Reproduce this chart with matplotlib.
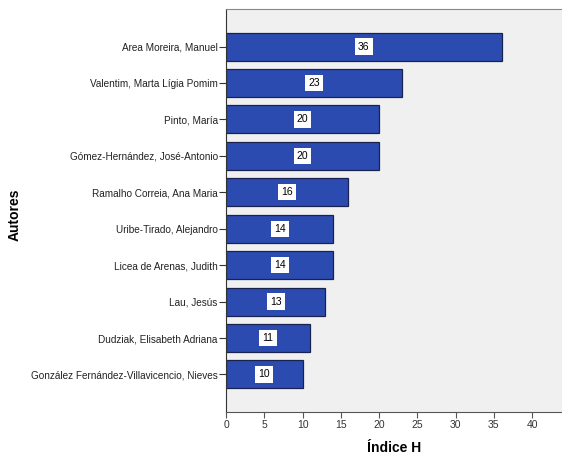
import matplotlib
matplotlib.use("Agg")
from matplotlib import pyplot as plt

# H-index per author (top to bottom as in the chart)
autores = [
    "Area Moreira, Manuel",
    "Valentim, Marta Lígia Pomim",
    "Pinto, María",
    "Gómez-Hernández, José-Antonio",
    "Ramalho Correia, Ana Maria",
    "Uribe-Tirado, Alejandro",
    "Licea de Arenas, Judith",
    "Lau, Jesús",
    "Dudziak, Elisabeth Adriana",
    "González Fernández-Villavicencio, Nieves",
]
indice_h = [36, 23, 20, 20, 16, 14, 14, 13, 11, 10]
ticks_x = [0, 5, 10, 15, 20, 25, 30, 35, 40]

plt.rcParams['font.family'] = ['Liberation Sans', 'DejaVu Sans']

fig = plt.figure(figsize=(5.62, 4.57), dpi=100)
ax = fig.add_axes([226 / 562, 45 / 457, 1 - 226 / 562, 403 / 457])
ax.set_facecolor('#f0f0f0')

pos = list(range(len(autores)))
ax.barh(pos, indice_h, height=0.77, color='#2c4bb0', edgecolor='#1a2350', linewidth=0.9)

# value labels in white boxes at bar centre
for p, v in zip(pos, indice_h):
    ax.text(v / 2, p, str(v), ha='center', va='center', fontsize=7.5, color='black',
            bbox=dict(boxstyle='square,pad=0.3', fc='white', ec='none'))

ax.set_ylim(len(autores) - 1 + 1.03, -1.03)
ax.set_xlim(0, 43.9)
ax.set_yticks(pos)
ax.set_yticklabels(autores, fontsize=7.2, color='#222222')
ax.set_xticks(ticks_x)
ax.set_xticklabels([str(t) for t in ticks_x], fontsize=7.5, color='#333333')
ax.tick_params(axis='y', length=5, width=0.8, color='#333333', pad=1)
ax.tick_params(axis='x', length=4, width=0.8, color='#555555', pad=2)

ax.spines['right'].set_visible(False)
ax.spines['top'].set_color('#888888')
ax.spines['left'].set_color('#333333')
ax.spines['bottom'].set_color('#555555')

ax.set_xlabel('Índice H', fontsize=10, fontweight='bold', labelpad=8)
# y label placed by hand, far left of the figure
fig.text(15 / 562, 1 - 215 / 457, 'Autores', rotation=90, ha='center', va='center',
         fontsize=10, fontweight='bold')

fig.savefig('out.png', dpi=100)
